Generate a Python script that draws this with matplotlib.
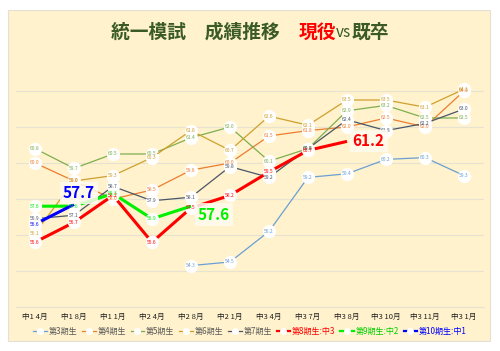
import numpy as np
import matplotlib
matplotlib.use("Agg")
import matplotlib.pyplot as plt
import matplotlib.patches as mpatches
from matplotlib.offsetbox import TextArea, HPacker, AnchoredOffsetbox

plt.rcParams['font.family'] = ['Noto Sans CJK JP', 'DejaVu Sans']

nan = np.nan

# x categories
periods = ["中1 4月", "中1 8月", "中1 1月", "中2 4月", "中2 8月", "中2 1月",
           "中3 4月", "中3 7月", "中3 8月", "中3 10月", "中3 11月", "中3 1月"]

# series values (deviation scores)
gen3 = [nan, nan, nan, nan, 54.3, 54.5, 56.2, 59.2, 59.4, 60.2, 60.3, 59.3]
gen4 = [60.0, 59.0, 58.0, 58.5, 59.6, 60.0, 61.5, 61.8, 62.0, 62.5, 62.0, 64.0]
gen5 = [60.8, 59.7, 60.5, 60.5, 61.4, 62.0, 60.1, 60.8, 62.9, 63.2, 62.5, 62.5]
gen6 = [56.1, 59.0, 59.3, 60.3, 61.8, 60.7, 62.6, 62.1, 63.5, 63.5, 63.1, 64.1]
gen7 = [56.9, 57.1, 58.7, 57.9, 58.1, 59.8, 59.2, 60.8, 62.4, 61.8, 62.2, 63.0]
gen8 = [55.6, 56.7, 58.2, 55.6, 57.5, 58.2, 59.5, 60.7, 61.2, nan, nan, nan]
gen9 = [57.6, 57.6, 58.3, 56.9, 57.6, nan, nan, nan, nan, nan, nan, nan]
gen10 = [56.6, 57.7, nan, nan, nan, nan, nan, nan, nan, nan, nan, nan]

names = ["第3期生", "第4期生", "第5期生", "第6期生", "第7期生",
         "第8期生:中3", "第9期生:中2", "第10期生:中1"]
series = [gen3, gen4, gen5, gen6, gen7, gen8, gen9, gen10]
colors = ["#6A9FD4", "#ED7D31", "#7FAE4F", "#CFA02E", "#4A5668",
          "#FF0000", "#00F000", "#0000FF"]
legend_colors = ["#595959"] * 5 + ["#FF0000", "#00D000", "#0000FF"]
current = [False] * 5 + [True] * 3       # current students: big label on last value
big_offsets = {5: (4, 0), 6: (5, -6), 7: (-8, 8)}

fig = plt.figure(figsize=(5.0, 3.51), dpi=100)
fig.patch.set_facecolor("white")
fig.add_artist(mpatches.Rectangle((0.016, 0.0285), 0.964, 0.943, transform=fig.transFigure,
                                  facecolor="#FFF2CC", edgecolor="#E4E0D8", lw=0.8, zorder=0))

ax = fig.add_axes([0.031, 0.1254, 0.936, 0.6923])
ax.set_facecolor("none")
x = np.arange(len(periods))

handles = []
for i, (vals, col) in enumerate(zip(series, colors)):
    v = np.array(vals, dtype=float)
    thick = current[i]
    lw = 2.2 if thick else 0.9
    ok = ~np.isnan(v)
    last = np.where(ok)[0][-1]
    ax.plot(x, v, color=col, lw=lw, zorder=3 + i, solid_capstyle="butt")
    mk = ok.copy()
    if thick:
        mk[last] = False
    ax.plot(x[mk], v[mk], ls="none", marker="o", ms=8.5, mfc="white", mec="white",
            zorder=3 + i)
    for xi in x[mk]:
        ax.text(xi, v[xi], f"{v[xi]:.1f}", fontsize=3.6, color=col, ha="center",
                va="center", zorder=20)
    if thick:
        dx, dy = big_offsets[i]
        ax.annotate(f"{v[last]:.1f}", (x[last], v[last]), xytext=(dx, dy),
                    textcoords="offset points", ha="left", va="center",
                    fontsize=11, fontweight="bold", color=col, zorder=30,
                    bbox=dict(boxstyle="square,pad=0.2", fc="#FFFBF0", ec="none", alpha=0.85))
    handles.append(plt.Line2D([], [], color=col, lw=1.6 if thick else 0.9, marker="o", ms=4,
                              mfc="white", mec="white"))

ax.set_xlim(-0.5, len(periods) - 0.5)
ax.set_ylim(52, 65.5)
ax.set_yticks(np.arange(52, 65, 2))
ax.set_xticks(x)
ax.set_xticklabels(periods, fontsize=5.5, color="#222222")
ax.tick_params(axis="both", length=0, pad=4)
ax.set_yticklabels([])
ax.yaxis.grid(True, color="#E8E2D2", lw=0.8)
ax.set_axisbelow(True)
for s in ["top", "left", "right"]:
    ax.spines[s].set_visible(False)
ax.spines["bottom"].set_color("#E8E2D2")
ax.spines["bottom"].set_linewidth(0.8)

leg = fig.legend(handles, names, loc="center", bbox_to_anchor=(0.5, 0.057), ncol=8,
                 frameon=False, fontsize=5.8, handlelength=1.7, handletextpad=0.2,
                 columnspacing=0.6)
for t, c in zip(leg.get_texts(), legend_colors):
    t.set_color(c)

# title with mixed colours
green = "#3A5A27"
parts = [TextArea("統一模試　成績推移　", textprops=dict(color=green, fontsize=13.5, fontweight="bold")),
         TextArea("現役", textprops=dict(color="#FF0000", fontsize=13.5, fontweight="bold")),
         TextArea("vs", textprops=dict(color=green, fontsize=11)),
         TextArea("既卒", textprops=dict(color=green, fontsize=13.5, fontweight="bold"))]
box = HPacker(children=parts, align="baseline", pad=0, sep=0)
title = AnchoredOffsetbox(loc="center", child=box, frameon=False, pad=0,
                          bbox_to_anchor=(0.5, 0.909), bbox_transform=fig.transFigure)
fig.add_artist(title)

fig.savefig("out.png", dpi=100)
